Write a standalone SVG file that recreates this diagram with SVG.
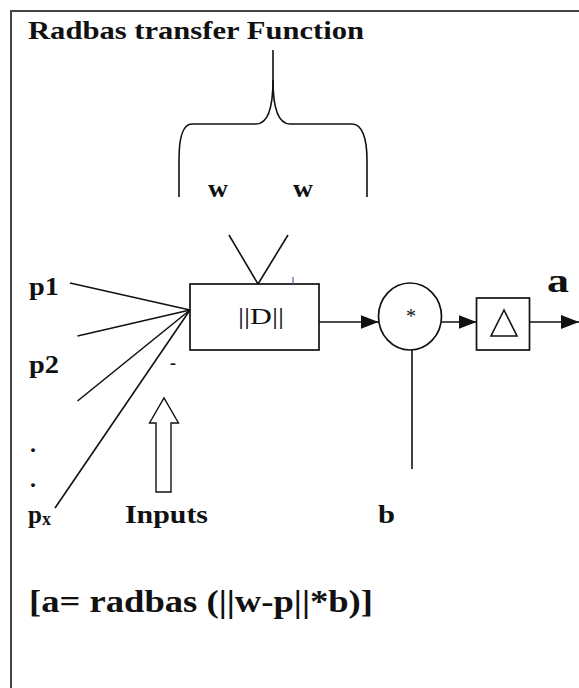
<svg xmlns="http://www.w3.org/2000/svg" width="579" height="688" viewBox="0 0 579 688">
  <defs>
    <style>
      .t { font-family: "Liberation Serif", "Times New Roman", serif; font-weight: bold; fill: #111; }
      .r { font-family: "Liberation Serif", "Times New Roman", serif; fill: #111; }
      .ln { stroke: #111; stroke-width: 1.6; fill: none; }
      .shape { stroke: #111; stroke-width: 1.7; fill: #fff; }
    </style>
    <marker id="ah" viewBox="0 0 18 14" refX="18" refY="7" markerWidth="18" markerHeight="14" markerUnits="userSpaceOnUse" orient="auto">
      <path d="M0,0 L18,7 L0,14 Z" fill="#111"/>
    </marker>
  </defs>
  <rect x="0" y="0" width="579" height="688" fill="#fff"/>
  <rect id="frame" x="11" y="11" width="620" height="700" fill="none" stroke="#444" stroke-width="2"/>

  <g id="title">
    <text class="t" x="28" y="39" font-size="26" textLength="336" lengthAdjust="spacingAndGlyphs">Radbas transfer Function</text>
  </g>

  <g id="brace">
    <path class="ln" d="M273,50 L273,80 C273,108 268,124 256,124 L192,124 C183,124 179,138 179,160 L179,197"/>
    <path class="ln" d="M273,80 C273,108 278,124 290,124 L352,124 C362,124 367,138 367,160 L367,197"/>
    <text class="t" x="208" y="197" font-size="25" textLength="20" lengthAdjust="spacingAndGlyphs">w</text>
    <text class="t" x="293" y="197" font-size="25" textLength="20" lengthAdjust="spacingAndGlyphs">w</text>
  </g>

  <g id="inputs">
    <text class="t" x="29" y="295" font-size="25" textLength="30" lengthAdjust="spacingAndGlyphs">p1</text>
    <text class="t" x="29" y="373" font-size="25" textLength="30" lengthAdjust="spacingAndGlyphs">p2</text>
    <text class="t" x="30" y="452" font-size="24">.</text>
    <text class="t" x="30" y="487" font-size="24">.</text>
    <text class="t" x="28" y="523" font-size="25">p<tspan font-size="18" dy="2">x</tspan></text>
    <text class="t" x="170" y="369" font-size="18" fill="#223">-</text>
    <text class="t" x="125" y="523" font-size="25" textLength="83" lengthAdjust="spacingAndGlyphs">Inputs</text>
    <path id="inputs-arrow" d="M156,492 L156,423 L149.5,423 L164,398 L178.5,423 L171,423 L171,492 Z" fill="#fff" stroke="#111" stroke-width="1.4"/>
  </g>

  <g id="dist">
    <rect class="shape" x="190" y="284" width="129" height="66"/>
    <text class="r" x="238" y="324" font-size="24" textLength="46" lengthAdjust="spacingAndGlyphs">||D||</text>
    <line x1="293" y1="277" x2="293" y2="284" stroke="#4a64a8" stroke-width="1.2"/>
  </g>

  <g id="mult">
    <ellipse class="shape" cx="410" cy="316.5" rx="31.5" ry="33.5"/>
    <text class="r" x="411" y="323" font-size="20" text-anchor="middle" fill="#223">*</text>
  </g>

  <g id="transfer">
    <rect class="shape" x="476.5" y="298" width="53" height="52"/>
    <path d="M504,310 L491,336 L517,336 Z" fill="none" stroke="#111" stroke-width="1.6"/>
  </g>

  <g id="output">
    <text class="t" x="547" y="292" font-size="34" textLength="22" lengthAdjust="spacingAndGlyphs">a</text>
  </g>

  <g id="bias">
    <text class="t" x="378" y="523" font-size="25" textLength="17" lengthAdjust="spacingAndGlyphs">b</text>
  </g>

  <g id="formula">
    <text class="t" x="29" y="612" font-size="31" textLength="344" lengthAdjust="spacingAndGlyphs">[a= radbas (||w-p||*b)]</text>
  </g>

  <g id="connectors">
    <line class="ln" x1="229" y1="235" x2="258" y2="284"/>
    <line class="ln" x1="288" y1="235" x2="258" y2="284"/>
    <line class="ln" x1="70" y1="283" x2="190" y2="310"/>
    <line class="ln" x1="77.5" y1="336" x2="190" y2="310"/>
    <line class="ln" x1="77.5" y1="401" x2="190" y2="310"/>
    <line class="ln" x1="55" y1="508" x2="190" y2="310"/>
    <line class="ln" x1="319" y1="322" x2="378.5" y2="322" marker-end="url(#ah)"/>
    <line class="ln" x1="441.5" y1="322" x2="476.5" y2="322" marker-end="url(#ah)"/>
    <line class="ln" x1="529.5" y1="322" x2="579" y2="322" marker-end="url(#ah)"/>
    <line class="ln" x1="412" y1="350" x2="412" y2="469"/>
  </g>
</svg>
